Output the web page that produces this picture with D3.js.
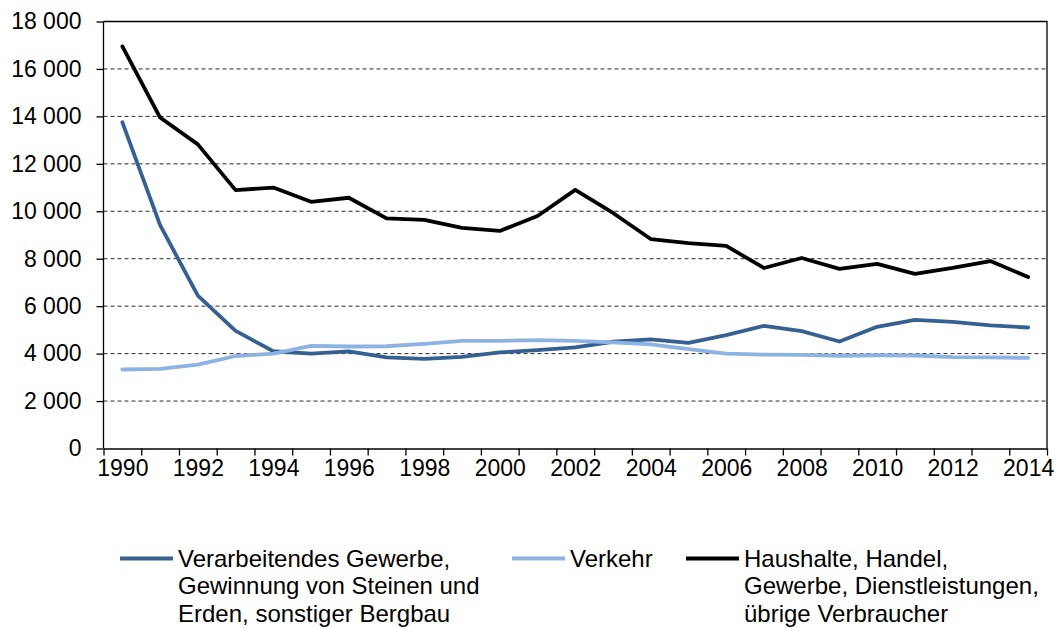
<!DOCTYPE html>
<html>
<head>
<meta charset="utf-8">
<script src="https://cdn.jsdelivr.net/npm/d3@7"></script>
<style>
body { margin: 0; background: #fff; }
svg { font-family: "Liberation Sans", Arial, sans-serif; }
.grid line { stroke: #2a2a2a; stroke-dasharray: 4 3; stroke-width: 1; }
.axis path, .axis line { stroke: #000; stroke-width: 1.3; }
.axis text { font-size: 23px; fill: #000; }
.legend text { font-size: 24px; fill: #000; }
</style>
</head>
<body>
<script>
// Daten
var years = d3.range(1990, 2015);

var industrie = [13750, 9420, 6440, 4960, 4100, 4000, 4090, 3840, 3780, 3860,
                 4050, 4150, 4260, 4500, 4600, 4450, 4780, 5170, 4950, 4510,
                 5130, 5420, 5340, 5190, 5100];

var verkehr = [3330, 3360, 3540, 3900, 4000, 4330, 4300, 4310, 4410, 4540,
               4540, 4570, 4540, 4470, 4390, 4190, 4000, 3960, 3950, 3910,
               3930, 3920, 3850, 3840, 3820];

var haushalte = [16950, 13950, 12820, 10890, 11000, 10400, 10570, 9700, 9640, 9300,
                 9170, 9800, 10900, 9930, 8830, 8660, 8540, 7610, 8030, 7570,
                 7780, 7360, 7610, 7900, 7230];

var yTicks = d3.range(0, 18001, 2000);
var xLabels = d3.range(1990, 2015, 2);

var series = [
    {name: ["Verarbeitendes Gewerbe,", "Gewinnung von Steinen und", "Erden, sonstiger Bergbau"], values: industrie, color: "#376092", lx: 120},
    {name: ["Verkehr"], values: verkehr, color: "#8db3e2", lx: 512},
    {name: ["Haushalte, Handel,", "Gewerbe, Dienstleistungen,", "übrige Verbraucher"], values: haushalte, color: "#000000", lx: 686}
];

var width = 1059, height = 628;
var pLeft = 103.5, pRight = 1047, pTop = 21.5, pBottom = 448.5;

var svg = d3.select("body").append("svg")
    .attr("width", width)
    .attr("height", height);

var x = d3.scaleLinear().domain([1989.5, 2014.5]).range([pLeft, pRight]);
var y = d3.scaleLinear().domain([0, 18000]).range([pBottom, pTop]);

var de = d3.formatLocale({decimal: ",", thousands: " ", grouping: [3], currency: ["", " €"]});
var fmt = de.format(",");

// Gitterlinien
svg.append("g")
    .attr("class", "grid")
    .selectAll("line")
    .data(yTicks.filter(d => d > 0 && d < 18000))
    .enter().append("line")
    .attr("x1", pLeft).attr("x2", pRight)
    .attr("y1", d => y(d)).attr("y2", d => y(d));

// Rahmen oben und rechts
svg.append("path")
    .attr("d", "M" + pLeft + "," + pTop + "H" + pRight + "V" + pBottom)
    .attr("fill", "none")
    .attr("stroke", "#000")
    .attr("stroke-width", 1.3);

// y-Achse
var yAxis = svg.append("g")
    .attr("class", "axis")
    .attr("transform", "translate(" + pLeft + ",0)")
    .call(d3.axisLeft(y).tickValues(yTicks).tickFormat(fmt).tickSize(7).tickPadding(15));
yAxis.select(".domain").attr("d", "M0," + pTop + "V" + pBottom);

// x-Achse: Striche an den Kategoriegrenzen
svg.append("g")
    .attr("class", "axis")
    .attr("transform", "translate(0," + pBottom + ")")
    .call(d3.axisBottom(x).tickValues(d3.range(1989.5, 2015, 1)).tickFormat("").tickSize(7).tickSizeOuter(0));

// x-Beschriftung in der Kategoriemitte
var xl = svg.append("g")
    .attr("class", "axis")
    .attr("transform", "translate(0," + pBottom + ")")
    .call(d3.axisBottom(x).tickValues(xLabels).tickFormat(d3.format("d")).tickSize(0).tickPadding(11));
xl.select(".domain").remove();

// Linien
var line = d3.line()
    .x((d, i) => x(years[i]))
    .y(d => y(d));

svg.selectAll(".serie")
    .data(series)
    .enter().append("path")
    .attr("class", "serie")
    .attr("d", d => line(d.values))
    .attr("fill", "none")
    .attr("stroke", d => d.color)
    .attr("stroke-width", 3.8)
    .attr("stroke-linejoin", "round")
    .attr("stroke-linecap", "round");

// Legende
var leg = svg.append("g").attr("class", "legend");
var item = leg.selectAll("g")
    .data(series)
    .enter().append("g")
    .attr("transform", d => "translate(" + d.lx + ",558.5)");

item.append("line")
    .attr("x1", 0).attr("x2", 53)
    .attr("stroke", d => d.color)
    .attr("stroke-width", 4);

item.append("text")
    .attr("x", 58)
    .attr("y", 8)
    .selectAll("tspan")
    .data(d => d.name)
    .enter().append("tspan")
    .attr("x", 58)
    .attr("dy", (d, i) => i ? 27.5 : 0)
    .text(d => d);
</script>
</body>
</html>
